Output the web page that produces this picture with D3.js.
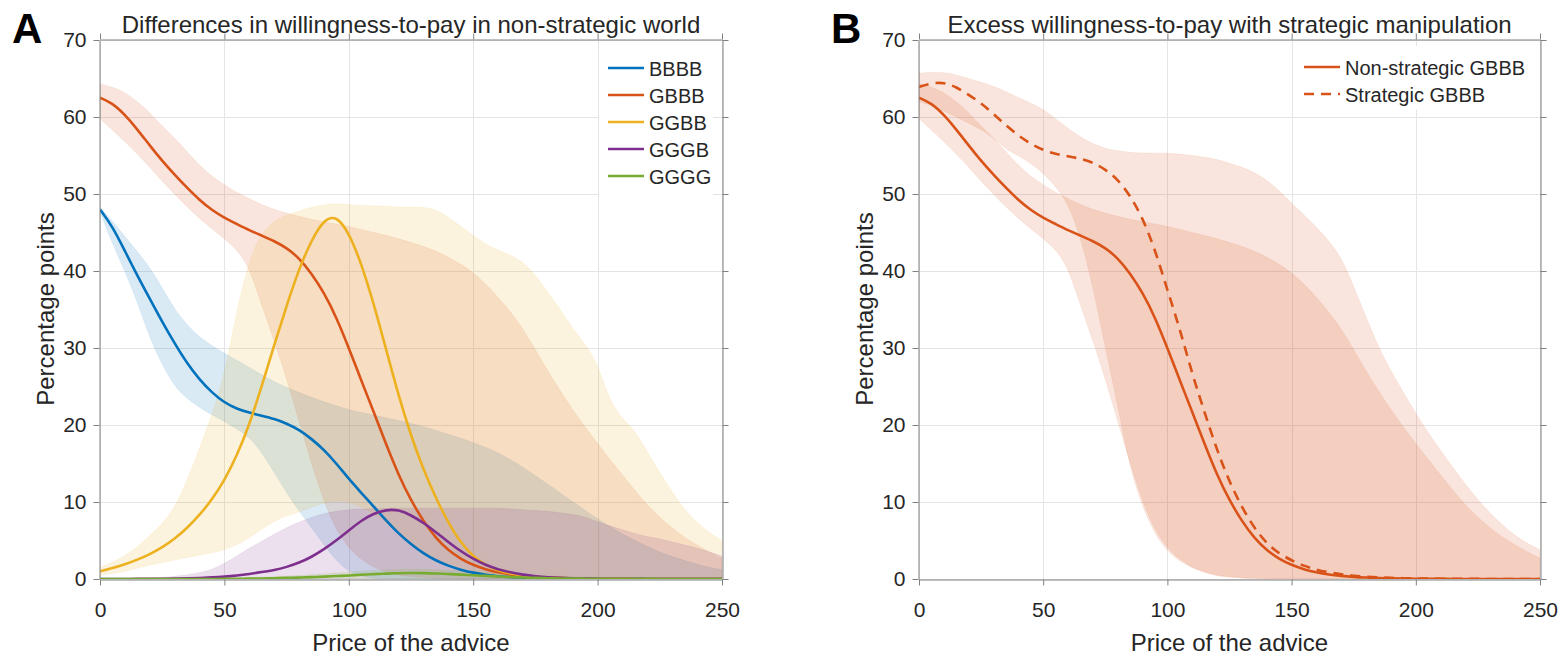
<!DOCTYPE html>
<meta charset="utf-8">

<!-- Load d3.js -->
<script src="https://d3js.org/d3.v7.min.js"></script>

<body>
<div id="wtp_chart"></div>
</body>

<style>
body { margin: 0; background: #fff; }
svg text { font-family: "Liberation Sans", Arial, Helvetica, sans-serif; fill: #262626; }
.axis .domain, .axis line { stroke: #808080; stroke-width: 1; }
.axis text { font-size: 21px; fill: #262626; }
.grid line { stroke: #e4e4e4; stroke-width: 1; }
</style>

<script>

// price of the advice (x) – sampled every 5
var price = [0, 5, 10, 15, 20, 25, 30, 35, 40, 45,
             50, 55, 60, 65, 70, 75, 80, 85, 90, 95,
             100, 105, 110, 115, 120, 125, 130, 135, 140, 145,
             150, 155, 160, 165, 170, 175, 180, 185, 190, 195,
             200, 205, 210, 215, 220, 225, 230, 235, 240, 245,
             250];

// panel A: percentage points, mean and band
var bbbb = [48.0, 45.8, 42.6, 39.4, 36.4, 33.4, 30.6, 28.0, 25.9, 24.2,
            22.9, 22.1, 21.6, 21.2, 20.8, 20.2, 19.4, 18.2, 16.8, 15.0,
            13.0, 11.2, 9.4, 7.6, 5.9, 4.5, 3.3, 2.4, 1.7, 1.2,
            0.8, 0.55, 0.35, 0.25, 0.17, 0.12, 0.08, 0.05, 0.03, 0.02,
            0.01, 0, 0, 0, 0, 0, 0, 0, 0, 0,
            0];
var bbbbLo = [47.8, 43.5, 40.0, 36.0, 31.3, 27.8, 25.0, 23.4, 22.3, 21.3,
              20.5, 19.5, 18.4, 16.5, 13.8, 11.2, 8.8, 6.7, 4.4, 2.4,
              0.9, 0.35, 0.1, 0.05, 0, 0, 0, 0, 0, 0,
              0, 0, 0, 0, 0, 0, 0, 0, 0, 0,
              0, 0, 0, 0, 0, 0, 0, 0, 0, 0,
              0];
var bbbbHi = [48.3, 46.5, 44.5, 42.5, 40.5, 37.8, 35.0, 33.0, 31.4, 30.3,
              29.3, 28.4, 27.5, 26.5, 25.6, 24.9, 24.2, 23.6, 23.0, 22.5,
              22.0, 21.6, 21.3, 20.9, 20.6, 20.2, 19.8, 19.3, 18.8, 18.3,
              17.7, 17.1, 16.4, 15.5, 14.5, 13.4, 12.3, 11.2, 10.0, 8.9,
              7.8, 6.8, 5.8, 5.0, 4.2, 3.5, 2.9, 2.4, 1.9, 1.5,
              1.2];

var gbbb = [62.5, 61.8, 60.3, 58.4, 56.3, 54.3, 52.5, 50.8, 49.2, 47.9,
            46.9, 46.1, 45.3, 44.6, 43.9, 43.0, 41.7, 39.7, 37.2, 34.0,
            30.0, 25.8, 21.7, 17.5, 13.5, 10.2, 7.5, 5.3, 3.7, 2.6,
            1.8, 1.25, 0.85, 0.58, 0.4, 0.27, 0.18, 0.12, 0.08, 0.05,
            0.03, 0.02, 0.01, 0.01, 0, 0, 0, 0, 0, 0,
            0];
var gbbbLo = [59.8, 58.3, 56.8, 55.2, 53.5, 51.6, 50.0, 48.3, 46.8, 45.5,
              44.2, 42.8, 40.5, 35.5, 31.0, 26.0, 20.5, 15.0, 10.0, 6.3,
              4.0, 2.5, 1.5, 0.9, 0.5, 0.3, 0.2, 0.1, 0, 0,
              0, 0, 0, 0, 0, 0, 0, 0, 0, 0,
              0, 0, 0, 0, 0, 0, 0, 0, 0, 0,
              0];
var gbbbHi = [64.3, 63.9, 63.2, 62.0, 60.6, 58.8, 57.3, 55.5, 53.7, 52.3,
              51.2, 50.2, 49.4, 48.6, 48.0, 47.5, 47.1, 46.7, 46.4, 46.1,
              45.8, 45.4, 45.0, 44.6, 44.2, 43.7, 43.2, 42.6, 41.8, 40.9,
              39.8, 38.3, 36.6, 34.7, 32.5, 29.8, 27.0, 24.4, 22.0, 19.7,
              17.6, 15.5, 13.5, 11.5, 9.6, 8.0, 6.6, 5.4, 4.4, 3.5,
              2.7];

var ggbb = [1.0, 1.4, 1.9, 2.5, 3.2, 4.1, 5.2, 6.6, 8.3, 10.3,
            12.8, 16.0, 20.0, 25.0, 30.4, 35.5, 40.3, 44.0, 46.7, 47.2,
            45.0, 41.0, 35.8, 29.8, 23.8, 18.6, 14.2, 10.5, 7.3, 4.7,
            2.9, 1.8, 1.1, 0.7, 0.45, 0.28, 0.18, 0.12, 0.08, 0.05,
            0.03, 0.02, 0.01, 0.01, 0, 0, 0, 0, 0, 0,
            0];
var ggbbLo = [0.5, 0.7, 1.0, 1.4, 1.8, 2.1, 2.5, 2.8, 3.1, 3.4,
              3.8, 4.4, 5.3, 6.5, 7.5, 8.2, 8.7, 9.3, 9.9, 10.2,
              10.0, 9.4, 8.5, 7.3, 6.0, 4.7, 3.5, 2.5, 1.8, 1.2,
              0.8, 0.5, 0.3, 0.15, 0.05, 0, 0, 0, 0, 0,
              0, 0, 0, 0, 0, 0, 0, 0, 0, 0,
              0];
var ggbbHi = [1.5, 2.2, 3.0, 4.2, 5.6, 7.2, 9.2, 12.8, 17.0, 21.3,
              26.5, 35.0, 41.5, 45.0, 46.5, 47.3, 47.8, 48.3, 48.6, 48.8,
              48.6, 48.5, 48.5, 48.4, 48.3, 48.3, 48.3, 48.0, 47.0, 45.8,
              44.6, 43.5, 42.7, 42.1, 41.2, 39.5, 37.3, 35.0, 32.5, 30.5,
              28.0, 23.0, 20.8, 19.3, 16.5, 13.8, 11.3, 9.0, 7.3, 6.0,
              5.0];

var gggb = [0, 0, 0, 0.01, 0.02, 0.03, 0.05, 0.08, 0.13, 0.2,
            0.3, 0.45, 0.65, 0.9, 1.15, 1.55, 2.1, 2.85, 3.85, 5.0,
            6.3, 7.6, 8.5, 9.0, 9.0, 8.3, 7.3, 6.1, 4.8, 3.6,
            2.6, 1.8, 1.25, 0.85, 0.55, 0.35, 0.22, 0.14, 0.09, 0.06,
            0.04, 0.03, 0.02, 0.01, 0.01, 0, 0, 0, 0, 0,
            0];
var gggbLo = [0, 0, 0, 0, 0, 0, 0, 0, 0, 0,
              0, 0, 0, 0, 0, 0, 0, 0, 0, 0,
              0, 0, 0, 0, 0, 0, 0, 0, 0, 0,
              0, 0, 0, 0, 0, 0, 0, 0, 0, 0,
              0, 0, 0, 0, 0, 0, 0, 0, 0, 0,
              0];
var gggbHi = [0, 0, 0.02, 0.05, 0.1, 0.2, 0.35, 0.55, 0.8, 1.2,
              2.0, 3.0, 4.0, 4.9, 5.8, 6.7, 7.4, 8.0, 8.5, 8.8,
              9.0, 9.1, 9.1, 9.2, 9.2, 9.2, 9.2, 9.2, 9.2, 9.2,
              9.2, 9.2, 9.2, 9.1, 9.0, 8.9, 8.8, 8.6, 8.4, 8.1,
              7.4, 6.9, 6.4, 5.9, 5.5, 5.2, 4.8, 4.4, 4.0, 3.5,
              3.0];

var gggg = [0, 0, 0, 0, 0, 0, 0, 0, 0, 0,
            0.02, 0.03, 0.05, 0.07, 0.1, 0.14, 0.18, 0.24, 0.3, 0.38,
            0.46, 0.55, 0.63, 0.7, 0.76, 0.78, 0.77, 0.72, 0.65, 0.57,
            0.48, 0.4, 0.32, 0.25, 0.19, 0.14, 0.1, 0.07, 0.05, 0.04,
            0.03, 0.02, 0.02, 0.01, 0.01, 0.01, 0, 0, 0, 0,
            0];
var ggggLo = gggbLo;
var ggggHi = [0, 0, 0, 0, 0, 0.01, 0.02, 0.03, 0.05, 0.07,
              0.1, 0.14, 0.18, 0.24, 0.3, 0.38, 0.47, 0.57, 0.68, 0.8,
              0.92, 1.03, 1.12, 1.2, 1.25, 1.27, 1.26, 1.22, 1.15, 1.07,
              0.98, 0.88, 0.78, 0.68, 0.58, 0.5, 0.42, 0.35, 0.29, 0.24,
              0.2, 0.17, 0.14, 0.12, 0.1, 0.08, 0.07, 0.06, 0.05, 0.04,
              0.03];

// panel B: strategic GBBB (non-strategic is gbbb above)
var strat = [63.9, 64.4, 64.5, 63.9, 62.9, 61.8, 60.4, 58.9, 57.6, 56.5,
             55.7, 55.2, 54.9, 54.6, 54.1, 53.2, 51.9, 49.8, 46.9, 42.8,
             37.5, 32.5, 26.6, 21.6, 16.7, 12.6, 9.3, 6.6, 4.6, 3.3,
             2.4, 1.7, 1.2, 0.85, 0.6, 0.42, 0.3, 0.2, 0.14, 0.1,
             0.07, 0.05, 0.04, 0.03, 0.02, 0.01, 0.01, 0, 0, 0,
             0];
var stratLo = [62.0, 61.5, 60.8, 60.0, 59.2, 58.4, 57.3, 55.8, 55.0, 54.0,
               52.7, 51.0, 48.8, 44.5, 38.0, 30.0, 22.5, 14.3, 9.3, 5.8,
               3.6, 2.3, 1.4, 0.8, 0.4, 0.2, 0.1, 0.05, 0, 0,
               0, 0, 0, 0, 0, 0, 0, 0, 0, 0,
               0, 0, 0, 0, 0, 0, 0, 0, 0, 0,
               0];
var stratHi = [65.7, 65.8, 65.8, 65.5, 65.0, 64.5, 64.0, 63.3, 62.5, 61.8,
               61.0, 59.8, 58.5, 57.4, 56.5, 55.9, 55.6, 55.4, 55.3, 55.3,
               55.3, 55.2, 55.0, 54.8, 54.5, 54.0, 53.5, 52.8, 51.8, 50.5,
               48.8, 47.3, 45.7, 43.9, 41.8, 38.0, 34.0, 30.1, 27.0, 24.2,
               21.5, 19.0, 16.7, 14.4, 12.3, 10.3, 8.5, 7.0, 5.6, 4.6,
               3.8];

// tick labels
var xTicks = [0, 50, 100, 150, 200, 250];
var yTicks = [0, 10, 20, 30, 40, 50, 60, 70];

var colBlue = "#0072BD", colOrange = "#D95319", colYellow = "#EDB120",
    colPurple = "#7E2F8E", colGreen = "#77AC30";

var svg = d3.select("#wtp_chart")
  .append("svg")
    .attr("width", 1566)
    .attr("height", 658);

var y = d3.scaleLinear().domain([0, 70]).range([579, 40]);

function drawPanel(id, left, right, letter, title, bands, lines, legend) {
  var x = d3.scaleLinear().domain([0, 250]).range([left, right]);
  var g = svg.append("g");

  g.append("clipPath").attr("id", "clip" + id)
    .append("rect")
      .attr("x", left).attr("y", 40)
      .attr("width", right - left).attr("height", 539);

  // grid
  var grid = g.append("g").attr("class", "grid");
  grid.selectAll("line.gx").data(xTicks).enter().append("line")
    .attr("x1", function(d) { return Math.round(x(d)) + 0.5; })
    .attr("x2", function(d) { return Math.round(x(d)) + 0.5; })
    .attr("y1", 40).attr("y2", 579);
  grid.selectAll("line.gy").data(yTicks).enter().append("line")
    .attr("y1", function(d) { return Math.round(y(d)) + 0.5; })
    .attr("y2", function(d) { return Math.round(y(d)) + 0.5; })
    .attr("x1", left).attr("x2", right);

  var plot = g.append("g").attr("clip-path", "url(#clip" + id + ")");

  // confidence bands
  bands.forEach(function(b) {
    plot.append("path")
      .datum(price.map(function(p, i) { return [p, b.lo[i], b.hi[i]]; }))
      .attr("fill", b.color)
      .attr("fill-opacity", 0.15)
      .attr("stroke", b.color)
      .attr("stroke-opacity", 0.08)
      .attr("d", d3.area()
        .curve(d3.curveBasis)
        .x(function(d) { return x(d[0]); })
        .y0(function(d) { return y(d[1]); })
        .y1(function(d) { return y(d[2]); }));
  });

  // mean lines
  lines.forEach(function(s) {
    plot.append("path")
      .datum(price.map(function(p, i) { return [p, s.values[i]]; }))
      .attr("fill", "none")
      .attr("stroke", s.color)
      .attr("stroke-width", 2.6)
      .attr("stroke-dasharray", s.dash ? "10,7" : null)
      .attr("d", d3.line()
        .curve(d3.curveBasis)
        .x(function(d) { return x(d[0]); })
        .y(function(d) { return y(d[1]); }));
  });

  // axes (box with outward ticks)
  g.append("g").attr("class", "axis")
    .attr("transform", "translate(0,579.5)")
    .call(d3.axisBottom(x).tickValues(xTicks).tickSize(6).tickSizeOuter(0).tickPadding(17));
  g.append("g").attr("class", "axis")
    .attr("transform", "translate(0,39.5)")
    .call(d3.axisTop(x).tickValues(xTicks).tickSize(6).tickSizeOuter(0).tickFormat(""));
  g.append("g").attr("class", "axis")
    .attr("transform", "translate(" + (left - 0.5) + ",0)")
    .call(d3.axisLeft(y).tickValues(yTicks).tickSize(6).tickSizeOuter(0).tickPadding(7));
  g.append("g").attr("class", "axis")
    .attr("transform", "translate(" + (right + 0.5) + ",0)")
    .call(d3.axisRight(y).tickValues(yTicks).tickSize(6).tickSizeOuter(0).tickFormat(""));

  // labels
  g.append("text")
    .attr("x", (left + right) / 2).attr("y", 651)
    .attr("text-anchor", "middle").style("font-size", "24px")
    .text("Price of the advice");
  g.append("text")
    .attr("transform", "translate(" + (left - 46) + "," + 309 + ") rotate(-90)")
    .attr("text-anchor", "middle").style("font-size", "24px")
    .text("Percentage points");
  g.append("text")
    .attr("x", (left + right) / 2).attr("y", 33)
    .attr("text-anchor", "middle").style("font-size", "24px")
    .text(title);
  g.append("text")
    .attr("x", left - 88).attr("y", 43)
    .style("font-size", "42px").style("font-weight", "bold").style("fill", "#000")
    .text(letter);

  // legend
  var lg = g.append("g");
  lg.append("rect")
    .attr("x", legend.x).attr("y", legend.y)
    .attr("width", legend.w).attr("height", legend.h)
    .attr("fill", "#fff");
  legend.items.forEach(function(it, i) {
    var cy = legend.y + 21 + i * 27;
    lg.append("line")
      .attr("x1", legend.x + 9).attr("x2", legend.x + 45)
      .attr("y1", cy).attr("y2", cy)
      .attr("stroke", it.color).attr("stroke-width", 2.6)
      .attr("stroke-dasharray", it.dash ? "10,7" : null);
    lg.append("text")
      .attr("x", legend.x + 50).attr("y", cy + 7.5)
      .style("font-size", "20px")
      .text(it.label);
  });
}

drawPanel("A", 100, 722, "A", "Differences in willingness-to-pay in non-strategic world",
  [
    {lo: bbbbLo, hi: bbbbHi, color: colBlue},
    {lo: gbbbLo, hi: gbbbHi, color: colOrange},
    {lo: ggbbLo, hi: ggbbHi, color: colYellow},
    {lo: gggbLo, hi: gggbHi, color: colPurple},
    {lo: ggggLo, hi: ggggHi, color: colGreen}
  ],
  [
    {values: bbbb, color: colBlue},
    {values: gbbb, color: colOrange},
    {values: ggbb, color: colYellow},
    {values: gggb, color: colPurple},
    {values: gggg, color: colGreen}
  ],
  {x: 599, y: 47, w: 114, h: 151, items: [
    {label: "BBBB", color: colBlue},
    {label: "GBBB", color: colOrange},
    {label: "GGBB", color: colYellow},
    {label: "GGGB", color: colPurple},
    {label: "GGGG", color: colGreen}
  ]});

drawPanel("B", 919, 1540, "B", "Excess willingness-to-pay with strategic manipulation",
  [
    {lo: gbbbLo, hi: gbbbHi, color: colOrange},
    {lo: stratLo, hi: stratHi, color: colOrange}
  ],
  [
    {values: gbbb, color: colOrange},
    {values: strat, color: colOrange, dash: true}
  ],
  {x: 1295, y: 46, w: 238, h: 64, items: [
    {label: "Non-strategic GBBB", color: colOrange},
    {label: "Strategic GBBB", color: colOrange, dash: true}
  ]});

</script>
